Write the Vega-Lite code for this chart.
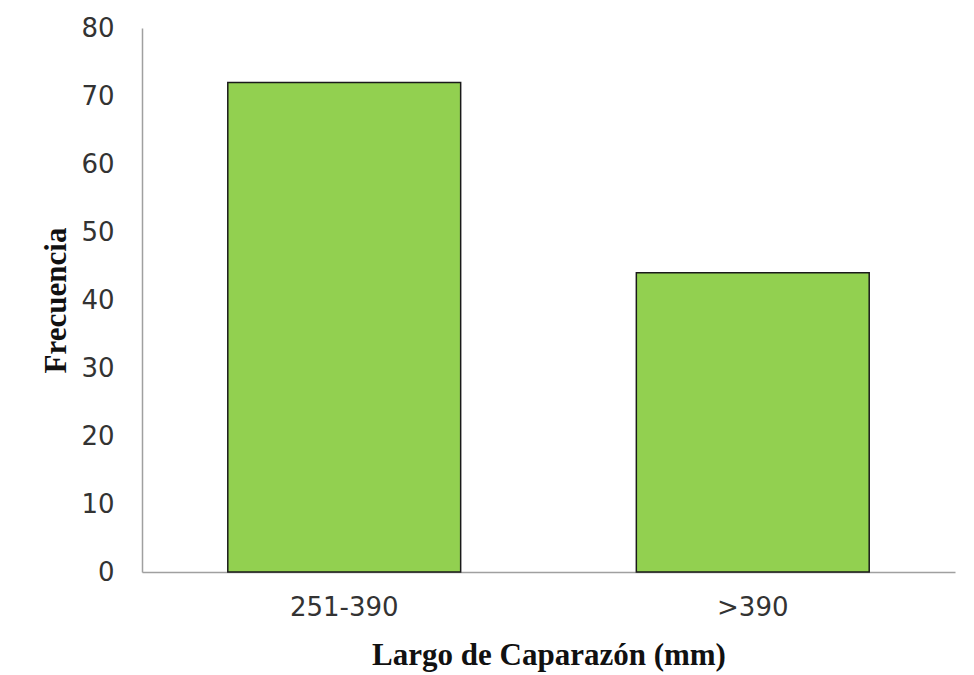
{
  "$schema": "https://vega.github.io/schema/vega-lite/v6.json",
  "autosize": {"type": "none"},
  "padding": {"left": 142, "top": 28, "right": 17, "bottom": 103},
  "width": 813,
  "height": 544,
  "background": "white",
  "config": {"view": {"stroke": null}},
  "data": {
    "values": [
      {"largo": "251-390", "frecuencia": 72},
      {"largo": ">390", "frecuencia": 44}
    ]
  },
  "mark": {"type": "bar", "color": "#92D050", "stroke": "#1a1a1a", "strokeWidth": 1.5},
  "encoding": {
    "x": {
      "field": "largo",
      "type": "nominal",
      "sort": null,
      "scale": {"paddingInner": 0.43, "paddingOuter": 0.21},
      "axis": {
        "title": "Largo de Caparazón (mm)",
        "titleFont": "Liberation Serif",
        "titleFontWeight": "bold",
        "titleFontSize": 31,
        "titleColor": "#111",
        "titlePadding": 20,
        "labelAngle": 0,
        "labelFont": "DejaVu Sans",
        "labelFontSize": 26,
        "labelColor": "#333",
        "labelPadding": 22,
        "ticks": false,
        "domainColor": "#a0a0a0",
        "domainWidth": 1.5
      }
    },
    "y": {
      "field": "frecuencia",
      "type": "quantitative",
      "scale": {"domain": [0, 80]},
      "axis": {
        "title": "Frecuencia",
        "titleFont": "Liberation Serif",
        "titleFontWeight": "bold",
        "titleFontSize": 31,
        "titleColor": "#111",
        "titlePadding": 8,
        "values": [0, 10, 20, 30, 40, 50, 60, 70, 80],
        "labelFont": "DejaVu Sans",
        "labelFontSize": 26,
        "labelColor": "#333",
        "labelPadding": 28,
        "ticks": false,
        "grid": false,
        "domainColor": "#a0a0a0",
        "domainWidth": 1.5
      }
    }
  }
}
